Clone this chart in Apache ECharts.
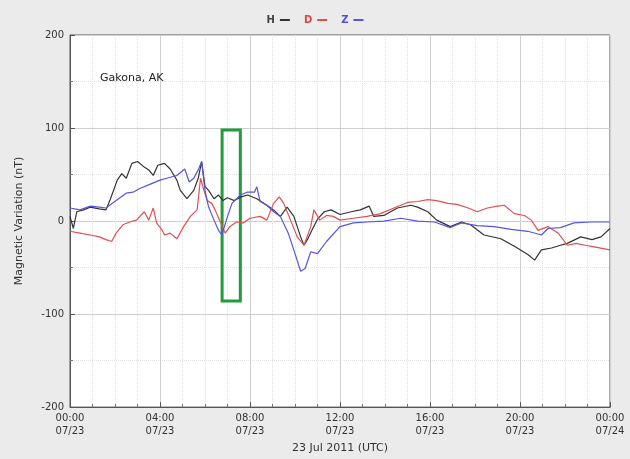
<!DOCTYPE html>
<html>
<head>
<meta charset="utf-8">
<script src="https://cdn.jsdelivr.net/npm/echarts@6/dist/echarts.min.js"></script>
<style>html,body{margin:0;padding:0;background:#ebebeb;}#c{width:630px;height:459px;}</style>
</head>
<body>
<div id="c"></div>
<script>
// hours since 00:00 UTC 23 Jul 2011 and values (nT)
var hTimes = [0,0.15,0.3,0.6,0.9,1.3,1.6,1.8,2.1,2.3,2.5,2.75,3.0,3.3,3.5,3.7,3.9,4.2,4.45,4.75,4.9,5.2,5.5,5.7,5.85,6.0,6.16,6.4,6.6,6.8,7.0,7.3,7.6,7.9,8.3,8.75,9.05,9.35,9.65,9.95,10.25,10.4,10.55,10.75,11.0,11.3,11.6,12.0,12.5,12.9,13.3,13.5,13.95,14.55,15.15,15.45,15.9,16.3,16.9,17.4,17.8,18.4,19.15,19.75,20.35,20.65,20.95,21.4,21.8,22.1,22.7,23.2,23.6,24.0];
var hVals  = [5,-8,10,12,15,13,12,24,44,51,46,62,64,58,55,49,60,62,56,44,33,24,33,46,64,37,33,24,28,22,25,22,26,28,24,17,12,5,15,5,-17,-26,-20,-10,2,10,12,7,10,12,16,5,6,14,17,15,10,1,-6,-1,-4,-15,-19,-27,-36,-42,-31,-29,-26,-24,-17,-20,-17,-8];
var dTimes = [0,0.45,0.9,1.3,1.6,1.85,2.05,2.35,2.65,2.95,3.3,3.5,3.7,3.85,4.1,4.2,4.45,4.75,5.05,5.35,5.65,5.8,5.95,6.1,6.3,6.45,6.7,6.9,7.1,7.4,7.7,8.0,8.45,8.75,9.05,9.3,9.5,9.8,10.1,10.4,10.7,10.84,11.1,11.4,11.7,12.0,12.6,13.2,13.8,14.4,15.0,15.45,15.9,16.3,16.8,17.2,17.7,18.1,18.55,19.0,19.3,19.75,20.2,20.5,20.8,21.25,21.7,22.1,22.5,22.9,23.35,24.0];
var dVals  = [-11,-13,-15,-17,-20,-22,-13,-4,-1,1,10,1,14,-2,-10,-15,-13,-19,-6,5,12,46,33,22,19,12,-2,-13,-6,-1,-2,3,5,1,19,26,19,1,-17,-26,-6,12,1,6,5,1,3,5,8,14,20,21,23,22,19,18,14,10,14,16,17,8,6,1,-10,-6,-13,-26,-24,-26,-28,-31];
var zTimes = [0,0.45,0.9,1.3,1.6,2.05,2.5,2.8,3.1,3.6,4.0,4.3,4.75,5.1,5.3,5.5,5.7,5.85,6.0,6.16,6.4,6.6,6.75,7.0,7.2,7.57,7.87,8.2,8.3,8.45,8.75,9.05,9.35,9.7,10.0,10.25,10.45,10.7,11.0,11.4,12.0,12.6,13.2,13.95,14.7,15.45,16.2,16.9,17.4,18.1,18.85,19.6,20.35,20.95,21.25,21.8,22.4,23.2,24.0];
var zVals  = [14,12,16,15,14,22,30,31,35,40,44,46,49,56,42,46,55,64,33,15,1,-10,-15,5,19,28,31,31,37,21,17,10,5,-13,-35,-54,-51,-33,-35,-22,-6,-2,-1,0,3,0,-1,-7,-2,-5,-6,-9,-11,-15,-8,-7,-2,-1,-1];
var tickHours = [0,4,8,12,16,20,24];
var tickLabels = ['00:00\n07/23','04:00\n07/23','08:00\n07/23','12:00\n07/23','16:00\n07/23','20:00\n07/23','00:00\n07/24'];
var boxCorners = [[6.76, 98], [7.57, -86]];

function pairs(t, v) { return t.map(function (x, i) { return [x, v[i]]; }); }

var chart = echarts.init(document.getElementById('c'));
var font = 'DejaVu Sans';
chart.setOption({
  backgroundColor: '#ebebeb',
  animation: false,
  textStyle: { fontFamily: font },
  title: { text: 'Gakona, AK', left: 95, top: 68, textStyle: { fontSize: 11, fontWeight: 'normal', color: '#222', fontFamily: font } },
  legend: {
    top: 10, left: 'center', align: 'right', itemGap: 14, itemWidth: 10, itemHeight: 2, icon: 'rect',
    data: [
      { name: 'H', textStyle: { color: '#444' } },
      { name: 'D', textStyle: { color: '#e04545' } },
      { name: 'Z', textStyle: { color: '#5050d8' } }
    ],
    textStyle: { fontSize: 10, fontFamily: font, fontWeight: 'bold' }
  },
  grid: { left: 70, right: 20, top: 35, bottom: 51, show: true, backgroundColor: '#fff', borderColor: '#555', borderWidth: 1 },
  xAxis: {
    type: 'value', min: 0, max: 24, interval: 4,
    name: '23 Jul 2011 (UTC)', nameLocation: 'middle', nameGap: 32,
    nameTextStyle: { fontSize: 11, color: '#333', fontFamily: font },
    axisLine: { show: true, onZero: false, lineStyle: { color: '#555' } },
    axisTick: { show: true, inside: true, length: 5, lineStyle: { color: '#555' } },
    minorTick: { show: true, splitNumber: 4, length: 3, lineStyle: { color: '#777' } },
    axisLabel: { fontSize: 10, color: '#333', lineHeight: 13, margin: 5, fontFamily: font,
      formatter: function (v) { var i = tickHours.indexOf(v); return i >= 0 ? tickLabels[i] : ''; } },
    splitLine: { show: true, lineStyle: { color: '#cfcfcf', width: 1 } },
    minorSplitLine: { show: true, lineStyle: { color: '#e2e2e2', type: 'dotted' } }
  },
  yAxis: {
    type: 'value', min: -200, max: 200, interval: 100,
    name: 'Magnetic Variation (nT)', nameLocation: 'middle', nameGap: 45,
    nameTextStyle: { fontSize: 11, color: '#333', fontFamily: font },
    axisLine: { show: true, onZero: false, lineStyle: { color: '#555' } },
    axisTick: { show: true, inside: true, length: 5, lineStyle: { color: '#555' } },
    minorTick: { show: true, splitNumber: 2, length: 3, lineStyle: { color: '#777' } },
    axisLabel: { fontSize: 10, color: '#333', margin: 6, fontFamily: font },
    splitLine: { show: true, lineStyle: { color: '#cfcfcf', width: 1 } },
    minorSplitLine: { show: true, lineStyle: { color: '#e2e2e2', type: 'dotted' } }
  },
  series: [
    { name: 'H', type: 'line', data: pairs(hTimes, hVals), showSymbol: false, symbol: 'none', lineStyle: { color: '#333', width: 1.2 }, itemStyle: { color: '#333' } },
    { name: 'D', type: 'line', data: pairs(dTimes, dVals), showSymbol: false, symbol: 'none', lineStyle: { color: '#e05050', width: 1.2 }, itemStyle: { color: '#e05050' } },
    { name: 'Z', type: 'line', data: pairs(zTimes, zVals), showSymbol: false, symbol: 'none', lineStyle: { color: '#5555dd', width: 1.2 }, itemStyle: { color: '#5555dd' },
      markArea: { silent: true, itemStyle: { color: 'rgba(0,0,0,0)', borderColor: '#1f9d3c', borderWidth: 3 },
        data: [[{ xAxis: boxCorners[0][0], yAxis: boxCorners[0][1] }, { xAxis: boxCorners[1][0], yAxis: boxCorners[1][1] }]] } }
  ]
});
</script>
</body>
</html>
